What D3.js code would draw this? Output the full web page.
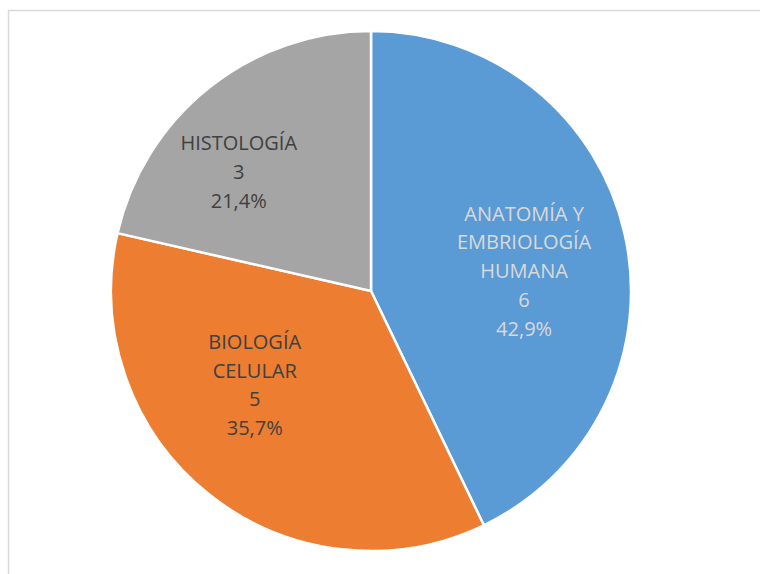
<!DOCTYPE html>
<html>
<head>
<meta charset="utf-8">
<script src="https://cdn.jsdelivr.net/npm/d3@7"></script>
<style>
  body { margin: 0; background: #fff; }
  text { font-family: "Open Sans", sans-serif; }
</style>
</head>
<body>
<div id="chart"></div>
<script>
const categorias = ["ANATOMÍA Y EMBRIOLOGÍA HUMANA", "BIOLOGÍA CELULAR", "HISTOLOGÍA"];
const lineasEtiqueta = [["ANATOMÍA Y", "EMBRIOLOGÍA", "HUMANA"], ["BIOLOGÍA", "CELULAR"], ["HISTOLOGÍA"]];
const valores = [6, 5, 3];
const colores = ["#5b9bd5", "#ed7d31", "#a5a5a5"];
const coloresTexto = ["#d9d9d9", "#404040", "#404040"];

const width = 760, height = 574;
const cx = 371, cy = 291, radio = 260;

const svg = d3.select("#chart")
  .append("svg")
    .attr("width", width)
    .attr("height", height);

// marco del gráfico
svg.append("rect")
  .attr("x", 8.5)
  .attr("y", 10.5)
  .attr("width", width)
  .attr("height", height)
  .attr("fill", "none")
  .attr("stroke", "#d9d9d9")
  .attr("stroke-width", 1.5);

const total = d3.sum(valores);
const datos = categorias.map((c, i) => ({ cat: c, valor: valores[i], i }));

const pie = d3.pie().value(d => d.valor).sort(null);
const arc = d3.arc().innerRadius(0).outerRadius(radio);

const g = svg.append("g").attr("transform", `translate(${cx},${cy})`);

const arcos = pie(datos);

g.selectAll("path")
  .data(arcos)
  .join("path")
    .attr("d", arc)
    .attr("fill", d => colores[d.data.i])
    .attr("stroke", "#fff")
    .attr("stroke-width", 2.5);

// posiciones de etiquetas: centroide y un pequeño ajuste como en Excel
const arcoEtiqueta = d3.arc().innerRadius(0).outerRadius(radio * 1.2);
const ajuste = [[1, 15], [-19, -28], [-35, 3]];
const fmt = v => d3.format(".1f")(v * 100).replace(".", ",") + "%";

const etiquetas = g.selectAll("g.etq")
  .data(arcos)
  .join("g")
    .attr("class", "etq")
    .attr("transform", d => {
      const [x, y] = arcoEtiqueta.centroid(d);
      const a = ajuste[d.data.i];
      return `translate(${x + a[0]},${y + a[1]})`;
    });

etiquetas.each(function(d) {
  const lineas = lineasEtiqueta[d.data.i].concat([String(d.data.valor), fmt(d.data.valor / total)]);
  const n = lineas.length;
  d3.select(this).selectAll("text")
    .data(lineas)
    .join("text")
      .attr("text-anchor", "middle")
      .attr("dy", "0.35em")
      .attr("y", (l, k) => (k - (n - 1) / 2) * 28.8)
      .attr("fill", coloresTexto[d.data.i])
      .attr("font-size", 20)
      .text(l => l);
});
</script>
</body>
</html>
